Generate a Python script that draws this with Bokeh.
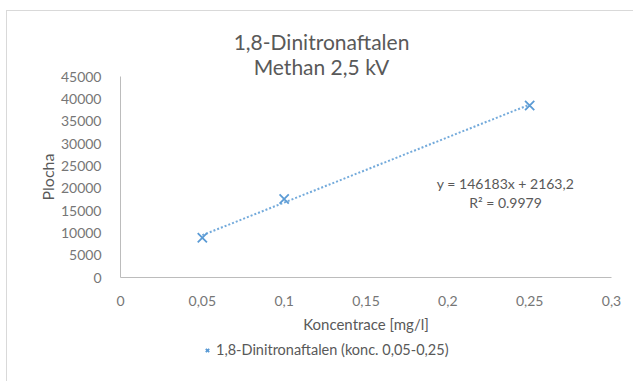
from bokeh.plotting import figure
from bokeh.models import Range1d, FixedTicker, Label, Legend, LegendItem
from bokeh.embed import file_html
from bokeh.resources import INLINE

# Calibration data: concentration [mg/l] vs. peak area
konc = [0.05, 0.1, 0.25]
plocha = [8892, 17556, 38515]

# Linear trendline as reported
slope = 146183
intercept = 2163.2
r2_text = "0.9979"

x_ticks = [0, 0.05, 0.1, 0.15, 0.2, 0.25, 0.3]
x_tick_labels = ["0", "0,05", "0,1", "0,15", "0,2", "0,25", "0,3"]
y_ticks = [0, 5000, 10000, 15000, 20000, 25000, 30000, 35000, 40000, 45000]

title_lines = ["1,8-Dinitronaftalen", "Methan 2,5 kV"]
series_name = "1,8-Dinitronaftalen (konc. 0,05-0,25)"

FONT = "Lato"
TXT = "#595959"
TICK_TXT = "#767676"
BLUE = "#5B9BD5"
AXIS = "#bcbcbc"

# Canvas geometry (pixels).  The frame fills the whole canvas, so title,
# legend and labels are drawn inside it; both axes are pinned at zero and
# bounded to the plotted extent.
W, H = 627, 371
AX_LEFT, AX_RIGHT = 113, 604      # x = 0 and x = 0.3
AX_BOTTOM, AX_TOP = 266, 65       # y = 0 and y = 45000 (from the top)
X_MAX, Y_MAX = 0.3, 45000

sx = X_MAX / (AX_RIGHT - AX_LEFT)
sy = Y_MAX / (AX_BOTTOM - AX_TOP)
x_range = Range1d(-AX_LEFT * sx, X_MAX + (W - AX_RIGHT) * sx)
y_range = Range1d(-(H - AX_BOTTOM) * sy, Y_MAX + AX_TOP * sy)


def px_x(px):
    return (px - AX_LEFT) * sx


def px_y(py):
    return (AX_BOTTOM - py) * sy


p = figure(width=W, height=H, output_backend="svg", toolbar_location=None,
           x_range=x_range, y_range=y_range,
           min_border_left=0, min_border_right=0,
           min_border_top=0, min_border_bottom=0)
p.title.visible = False
p.margin = (10, 0, 0, 6)
p.styles = {"border-left": "1px solid #d9d9d9", "border-top": "1px solid #d9d9d9"}
p.outline_line_color = None
p.grid.visible = False
p.background_fill_color = "white"
p.border_fill_color = "white"

# axes
p.xaxis.fixed_location = 0
p.yaxis.fixed_location = 0
p.xaxis.bounds = (0, X_MAX)
p.yaxis.bounds = (0, Y_MAX)
p.xaxis.ticker = FixedTicker(ticks=x_ticks)
p.xaxis.major_label_overrides = {t: s for t, s in zip(x_ticks, x_tick_labels)}
p.yaxis.ticker = FixedTicker(ticks=y_ticks)
p.yaxis.major_label_overrides = {t: str(t) for t in y_ticks}
for ax in (p.xaxis, p.yaxis):
    ax.axis_line_color = AXIS
    ax.axis_line_width = 1
    ax.major_tick_line_color = None
    ax.minor_tick_line_color = None
    ax.major_label_text_font = FONT
    ax.major_label_text_font_size = "14px"
    ax.major_label_text_color = TICK_TXT
    ax.axis_label_text_font = FONT
    ax.axis_label_text_color = TXT
    ax.axis_label_text_font_style = "normal"
p.xaxis.axis_label = "Koncentrace [mg/l]"
p.xaxis.axis_label_text_font_size = "15px"
p.xaxis.major_label_standoff = 12
p.xaxis.axis_label_standoff = 6
p.yaxis.axis_label = "Plocha"
p.yaxis.axis_label_text_font_size = "16px"
p.yaxis.major_label_standoff = 13
p.yaxis.axis_label_standoff = 1

# trendline over the measured range
x0, x1 = min(konc), max(konc)
p.line([x0, x1], [slope * x0 + intercept, slope * x1 + intercept],
       line_color=BLUE, line_width=2, line_dash="2 2", line_alpha=0.85)

pts = p.scatter(konc, plocha, marker="x", size=13, line_color=BLUE, line_width=1.8)

# title (two lines)
for txt, py in zip(title_lines, [30, 55]):
    p.add_layout(Label(x=px_x(314), y=px_y(py), text=txt, text_align="center",
                       text_baseline="middle", text_font=FONT,
                       text_font_size="21px", text_color=TXT))

# trendline equation
eq = f"y = {slope}x + {str(intercept).replace('.', ',')}"
p.add_layout(Label(x=px_x(498), y=px_y(172), text=eq, text_align="center",
                   text_baseline="middle", text_font=FONT,
                   text_font_size="14px", text_color=TXT))
p.add_layout(Label(x=px_x(498), y=px_y(191), text=f"R² = {r2_text}",
                   text_align="center", text_baseline="middle", text_font=FONT,
                   text_font_size="14px", text_color=TXT))

legend = Legend(items=[LegendItem(label=series_name, renderers=[pts])],
                location=(194, 24), orientation="horizontal",
                padding=0, margin=0, spacing=0,
                glyph_width=12, glyph_height=12, label_height=16,
                label_standoff=3, border_line_color=None,
                background_fill_alpha=0,
                label_text_font=FONT, label_text_font_size="14.5px",
                label_text_color=TXT)
p.add_layout(legend)

open("out.html", "w").write(file_html(p, INLINE))
